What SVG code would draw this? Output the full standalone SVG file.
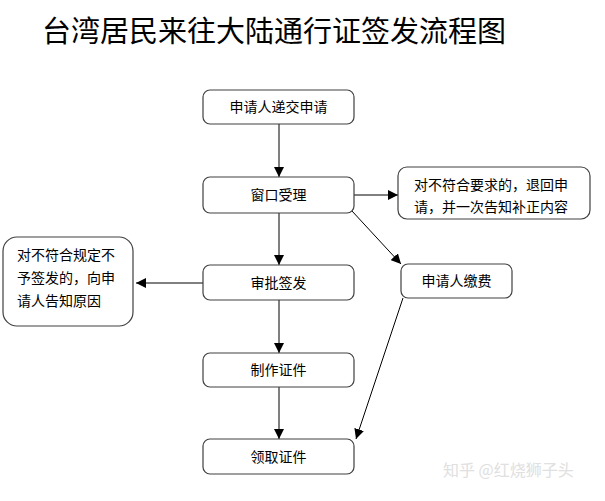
<svg xmlns="http://www.w3.org/2000/svg" width="605" height="501" viewBox="0 0 605 501">
<defs>
<marker id="ah" viewBox="0 0 10 10" refX="10" refY="5" markerWidth="10" markerHeight="10" markerUnits="userSpaceOnUse" orient="auto">
<path d="M0,0 L10,5 L0,10 z" fill="#000"/>
</marker>
<style>
.box{fill:#fff;stroke:#404040;stroke-width:1.2}
.t{font-family:"Noto Sans CJK SC","Noto Sans",sans-serif;font-size:14px;fill:#000}
.c{stroke:#000;stroke-width:1;fill:none;marker-end:url(#ah)}
</style>
</defs>
<rect width="605" height="501" fill="#fff"/>
<text x="42" y="42" style="font-family:'Noto Sans CJK SC',sans-serif;font-size:29px;fill:#000">台湾居民来往大陆通行证签发流程图</text>
<g id="connectors">
<line class="c" x1="279" y1="124" x2="279" y2="177"/>
<line class="c" x1="354" y1="195" x2="398" y2="195"/>
<line class="c" x1="279" y1="213" x2="279" y2="265"/>
<line class="c" x1="352" y1="211" x2="401" y2="264"/>
<line class="c" x1="203" y1="283" x2="136" y2="283"/>
<line class="c" x1="279" y1="300" x2="279" y2="353"/>
<line class="c" x1="279" y1="387" x2="279" y2="439"/>
<line class="c" x1="403" y1="298" x2="356" y2="439"/>
</g>
<g id="n1"><rect class="box" x="203" y="90" width="151" height="34" rx="7"/><text class="t" x="278.5" y="112" text-anchor="middle">申请人递交申请</text></g>
<g id="n2"><rect class="box" x="203" y="177" width="151" height="36" rx="7"/><text class="t" x="278.5" y="200" text-anchor="middle">窗口受理</text></g>
<g id="n3"><rect class="box" x="398" y="167" width="192" height="52" rx="9"/><text class="t" x="414" y="190">对不符合要求的，退回申</text><text class="t" x="414" y="212">请，并一次告知补正内容</text></g>
<g id="n4"><rect class="box" x="203" y="265" width="151" height="35" rx="7"/><text class="t" x="278.5" y="288" text-anchor="middle">审批签发</text></g>
<g id="n5"><rect class="box" x="401" y="264" width="111" height="34" rx="7"/><text class="t" x="456.5" y="286" text-anchor="middle">申请人缴费</text></g>
<g id="n6"><rect class="box" x="3" y="237" width="130" height="89" rx="14"/><text class="t" x="17" y="260">对不符合规定不</text><text class="t" x="17" y="283">予签发的，向申</text><text class="t" x="17" y="306">请人告知原因</text></g>
<g id="n7"><rect class="box" x="203" y="353" width="151" height="34" rx="7"/><text class="t" x="278.5" y="375" text-anchor="middle">制作证件</text></g>
<g id="n8"><rect class="box" x="203" y="439" width="151" height="35" rx="7"/><text class="t" x="278.5" y="462" text-anchor="middle">领取证件</text></g>
<text x="443" y="476" style="font-family:'Noto Sans CJK SC',sans-serif;font-size:16px;fill:#e0e0e0">知乎 @红烧狮子头</text>
</svg>
